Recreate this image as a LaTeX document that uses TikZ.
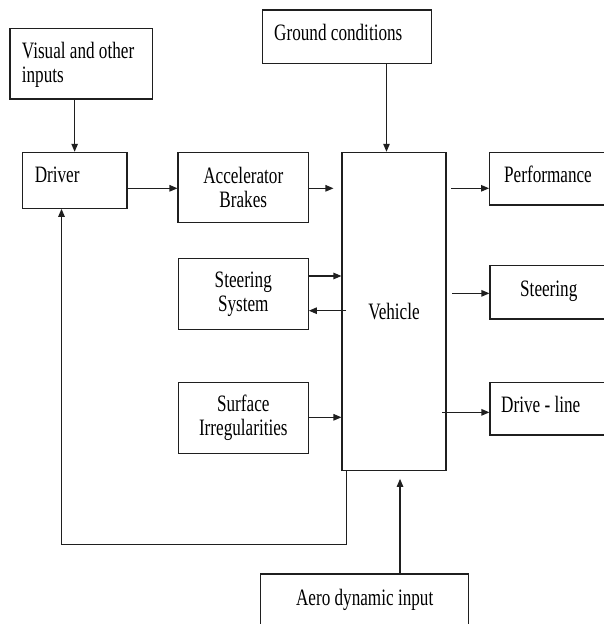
\documentclass[tikz,border=0pt]{standalone}
\usepackage{fontspec}
\setmainfont{Liberation Serif}[FakeStretch=0.73]
\usetikzlibrary{arrows.meta,calc}
\begin{document}
\begin{tikzpicture}[x=1pt,y=-1pt,
  box/.style={draw=black!88, line width=1.1pt, inner sep=0pt, align=center, font=\fontsize{23.5}{24}\selectfont},
  lbl/.style={inner sep=0pt, anchor=base west, font=\fontsize{23.5}{24}\selectfont},
  arr/.style={draw=black!88, line width=1.1pt, -{Triangle[length=8pt,width=6.5pt]}}]
\useasboundingbox (0,0) rectangle (603,624);
\fill[white] (0,0) rectangle (603,624);

\node[box, minimum width=142.7pt, minimum height=70.7pt] (vis) at (81.35,63.65) {};
\node[lbl, anchor=north west, align=left] (vist) at (21.7,42.3) {Visual and other\\inputs};
\node[box, minimum width=168.8pt, minimum height=53.3pt] (gnd) at (347.1,36.65) {};
\node[lbl] (gndt) at (274,40) {Ground conditions};
\node[box, minimum width=104.7pt, minimum height=56pt] (drv) at (74.65,180.3) {};
\node[lbl] (drvt) at (34.6,182.5) {Driver};
\node[box, minimum width=130.5pt, minimum height=70.4pt] (acc) at (243.25,187.5) {Accelerator\\Brakes};
\node[box, minimum width=104pt, minimum height=318.4pt] (veh) at (394,311.5) {Vehicle};
\node[box, minimum width=125.4pt, minimum height=52.7pt] (perf) at (552.3,178.65) {};
\node[lbl] (perft) at (504,182.7) {Performance};
\node[box, minimum width=130pt, minimum height=71pt] (ss) at (243.3,293.8) {Steering\\System};
\node[box, minimum width=125pt, minimum height=53.3pt] (str) at (552.5,292.35) {};
\node[lbl] (strt) at (520,296) {Steering};
\node[box, minimum width=130pt, minimum height=71pt] (surf) at (243.3,417.8) {Surface\\Irregularities};
\node[box, minimum width=125pt, minimum height=52.3pt] (dl) at (552.5,408.85) {};
\node[lbl] (dlt) at (501,412.7) {Drive - line};
\node[box, minimum width=207.7pt, minimum height=76pt] (aero) at (364.65,612) {};
\node[lbl, anchor=base] (aerot) at (364.65,605) {Aero dynamic input};

\draw[arr] (drv.north |- vis.south) -- (drv.north);
\draw[arr] ($(veh.north |- gnd.south)+(-7.5,0)$) -- ($(veh.north)+(-7.5,0)$);
\draw[arr] ($(drv.east |- acc.west)+(0,0.8)$) -- ($(acc.west)+(0,0.8)$);
\draw[arr] ($(acc.east)+(0,0.8)$) -- ($(acc.east -| veh.west)+(-8,0.8)$);
\draw[arr] ($(acc.east -| veh.east)+(4.8,0.8)$) -- ($(acc.east -| perf.west)+(0,0.8)$);
\draw[arr] ($(ss.east)+(0,-17.8)$) -- ($(ss.east -| veh.west)+(0,-17.8)$);
\draw[arr] ($(ss.east -| veh.west)+(4.7,16.9)$) -- ($(ss.east)+(0,16.9)$);
\draw[arr] ($(veh.east |- str.west)+(5.7,1)$) -- ($(str.west)+(0,1)$);
\draw[arr] ($(surf.east)+(0,-0.5)$) -- ($(surf.east -| veh.west)+(0,-0.5)$);
\draw[arr] ($(veh.east |- dl.west)+(-4.3,3.5)$) -- ($(dl.west)+(0,3.5)$);
\draw[arr] ($(veh.south west)+(5.3,0)$) |- ($(drv.south)+(-13.15,335.7)$) -- ($(drv.south)+(-13.15,0)$);
\draw[arr] ($(aero.north -| veh.south)+(6,0)$) -- ($(veh.south)+(6,7.6)$);
\end{tikzpicture}
\end{document}
